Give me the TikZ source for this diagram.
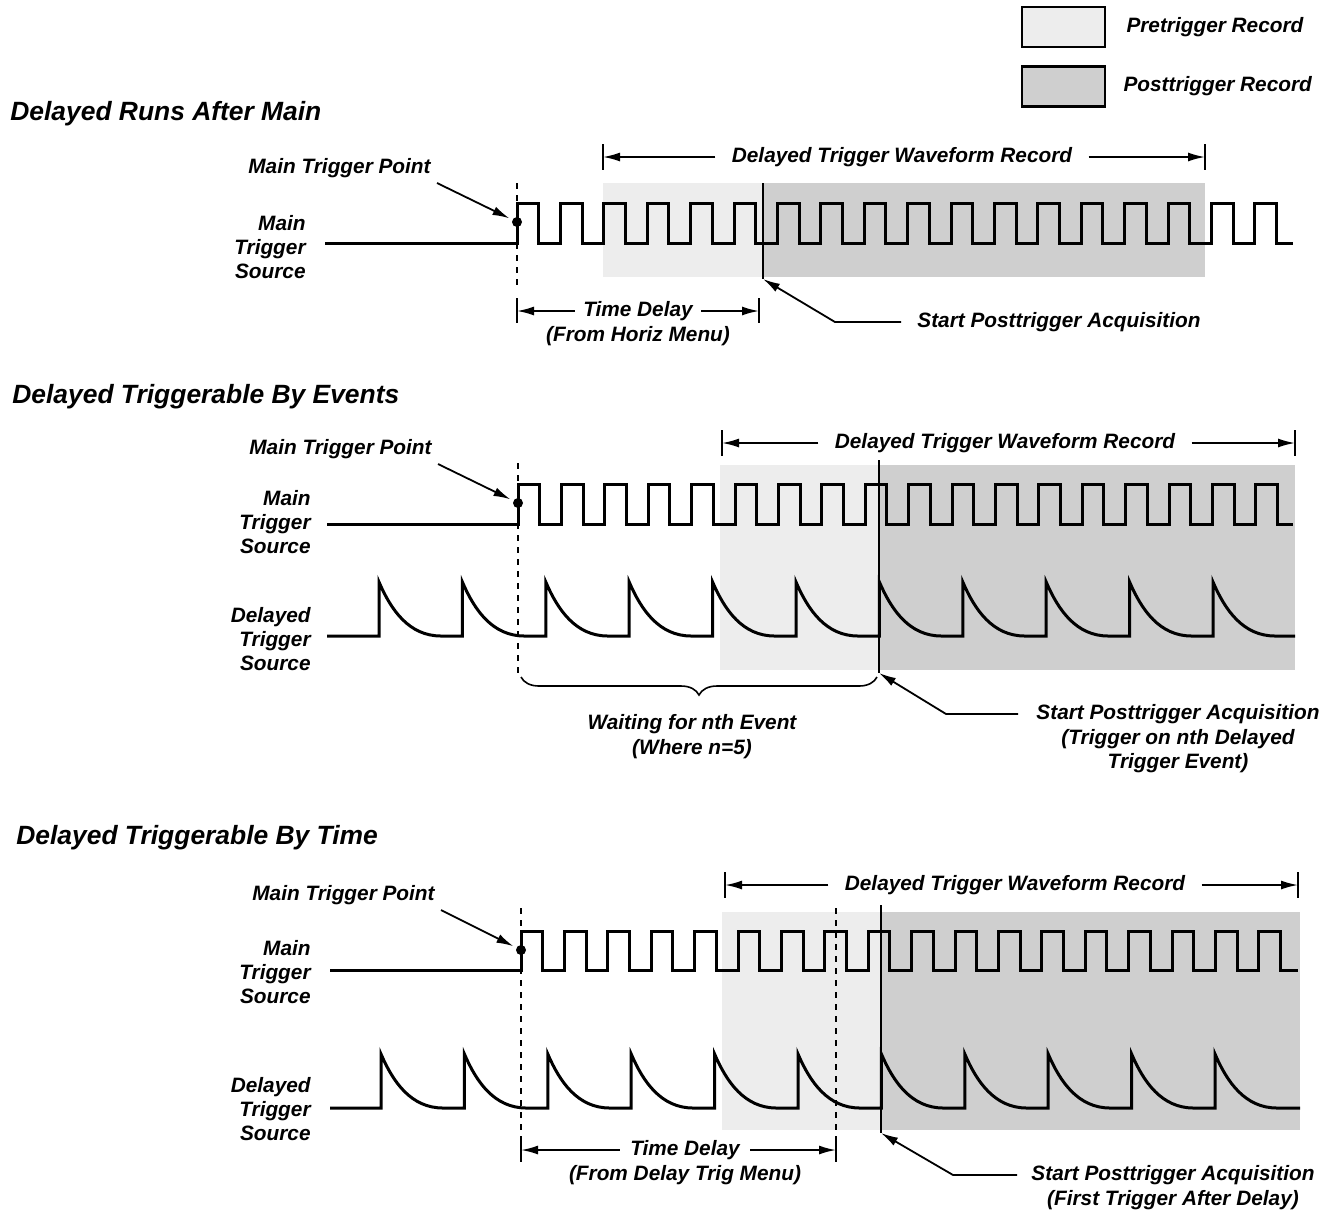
\documentclass[tikz,border=0pt]{standalone}
\usepackage{fontspec}
\setmainfont{Liberation Sans}
\usetikzlibrary{
	arrows.meta,
	positioning,
	decorations.pathreplacing
}

\begin{document}
\begin{tikzpicture}[
    x=0.5pt, y=-0.5pt,
    lbl/.style={font=\fontsize{10.4}{12}\selectfont\bfseries\itshape, inner sep=1pt},
    ttl/.style={font=\fontsize{13.2}{15}\selectfont\bfseries\itshape, anchor=west, inner sep=0pt, yshift=-1pt},
    src/.style={lbl, align=right, anchor=east},
    wave/.style={line width=1.5pt, line join=miter},
    arr/.style={line width=0.9pt, -{Latex[length=8.5pt,width=4.5pt]}},
    tick/.style={line width=0.9pt},
    trig/.style={line width=0.8pt, dash pattern=on 3pt off 3pt},
    post/.style={line width=0.6pt},
    prefill/.style={fill=gray!14},
    postfill/.style={fill=gray!38},
    dot/.style={circle, fill, inner sep=0pt, minimum size=5pt},
    legend/.style={draw, line width=1.1pt, minimum width=41.5pt, minimum height=20pt}
]
\useasboundingbox (0,0) rectangle (1336,1211);

% Legend
\node[legend, prefill] (lgpre) at (1063.5,27) {};
\node[lbl, right=9pt of lgpre] (lgpretxt) {Pretrigger Record};
\node[legend, postfill] (lgpost) at (1063.5,86.5) {};
\node[lbl, right=7.5pt of lgpost] (lgposttxt) {Posttrigger Record};

%% Delayed Runs After Main
\node[ttl] (title1) at (10,112) {Delayed Runs After Main};

% Records
\fill[prefill] (603,183) rectangle (763,277);
\fill[postfill] (763,183) rectangle (1205,277);

% Main trigger source
\node[src] (src1) at (308,247) {Main\\Trigger\\Source};
\draw[wave] (325,243) foreach \k in {0,...,17} {
    -- ({517+43.4*\k},243) -- ({517+43.4*\k},203) -- ({538.7+43.4*\k},203) -- ({538.7+43.4*\k},243)
} -- (1293,243);

% Trigger point
\draw[trig] (517,183) -- (517,285);
\node[dot] (dot1) at (517,222) {};
\node[lbl, anchor=east] (mtp1) at (433,168) {Main Trigger Point};
\draw[arr, shorten >=1.5pt] ([shift={(2pt,-7.5pt)}]mtp1.east) -- (dot1);

% Posttrigger start
\coordinate (pt1) at (763,279);
\draw[post] (763,183) -- (pt1);
\node[lbl, anchor=west] (spa1) at (915,322) {Start Posttrigger Acquisition};
\draw[arr] ([xshift=-7pt]spa1.west) -- ++(-66,0) -- (pt1);

% Record span
\node[lbl, inner xsep=8pt] (rec1) at (902,157) {Delayed Trigger Waveform Record};
\coordinate (rec1l) at (603,157);
\coordinate (rec1r) at (1205,157);
\draw[tick] (603,144) -- (603,170);
\draw[tick] (1205,144) -- (1205,170);
\draw[arr] (rec1.west) -- (rec1l);
\draw[arr] (rec1.east) -- (rec1r);

% Time delay
\node[lbl, inner xsep=4pt] (td1) at (638,311) {Time Delay};
\node[lbl, below=0.5pt of td1] (td1b) {(From Horiz Menu)};
\coordinate (td1l) at (517,311);
\coordinate (td1r) at (759,311);
\draw[tick] (517,298) -- (517,323);
\draw[tick] (759,298) -- (759,323);
\draw[arr] (td1.west) -- (td1l);
\draw[arr] (td1.east) -- (td1r);

%% Delayed Triggerable By Events
\node[ttl] (title2) at (12,395) {Delayed Triggerable By Events};

% Records
\fill[prefill] (720,465) rectangle (879,670);
\fill[postfill] (879,465) rectangle (1295,670);

% Main trigger source
\node[src] (src2a) at (313,522) {Main\\Trigger\\Source};
\draw[wave] (327,524) foreach \k in {0,...,17} {
    -- ({518+43.4*\k},524) -- ({518+43.4*\k},484) -- ({539.7+43.4*\k},484) -- ({539.7+43.4*\k},524)
} -- (1293,524);

% Delayed trigger source
\node[src] (src2b) at (313,639) {Delayed\\Trigger\\Source};
\draw[wave] (327,636) foreach \k in {0,...,10} {
    -- ({379+83.4*\k},636) -- ({379+83.4*\k},582)
    .. controls ({391+83.4*\k},610) and ({409+83.4*\k},636) .. ({441+83.4*\k},636)
} -- (1295,636);

% Trigger point
\draw[trig] (518,463) -- (518,678);
\node[dot] (dot2) at (518,503) {};
\node[lbl, anchor=east] (mtp2) at (434,449) {Main Trigger Point};
\draw[arr, shorten >=1.5pt] ([shift={(2pt,-7.5pt)}]mtp2.east) -- (dot2);

% Posttrigger start
\coordinate (pt2) at (879,673);
\draw[post] (879,460) -- (pt2);
\node[lbl] (spa2) at (1178,714) {Start Posttrigger Acquisition};
\node[lbl, align=center, below=0.5pt of spa2] (spa2b) {(Trigger on nth Delayed\\Trigger Event)};
\draw[arr] ([xshift=-8pt]spa2.west) -- ++(-72,0) -- (pt2);

% Record span
\node[lbl, inner xsep=8pt] (rec2) at (1005,443) {Delayed Trigger Waveform Record};
\coordinate (rec2l) at (722,443);
\coordinate (rec2r) at (1295,443);
\draw[tick] (722,430) -- (722,456);
\draw[tick] (1295,430) -- (1295,456);
\draw[arr] (rec2.west) -- (rec2l);
\draw[arr] (rec2.east) -- (rec2r);

% Waiting for events
\draw[line width=0.8pt, decorate, decoration={brace, mirror, amplitude=9pt}] (521,677) -- (877,677);
\node[lbl] (wait2) at (692,724) {Waiting for nth Event};
\node[lbl, below=0.5pt of wait2] (wait2b) {(Where n=5)};

%% Delayed Triggerable By Time
\node[ttl] (title3) at (16,836) {Delayed Triggerable By Time};

% Records
\fill[prefill] (722,912) rectangle (881,1130);
\fill[postfill] (881,912) rectangle (1300,1130);

% Main trigger source
\node[src] (src3a) at (313,972) {Main\\Trigger\\Source};
\draw[wave] (330,970) foreach \k in {0,...,17} {
    -- ({521+43.4*\k},970) -- ({521+43.4*\k},931) -- ({542.7+43.4*\k},931) -- ({542.7+43.4*\k},970)
} -- (1298,970);

% Delayed trigger source
\node[src] (src3b) at (313,1109) {Delayed\\Trigger\\Source};
\draw[wave] (330,1108) foreach \k in {0,...,10} {
    -- ({381+83.4*\k},1108) -- ({381+83.4*\k},1054)
    .. controls ({393+83.4*\k},1082) and ({411+83.4*\k},1108) .. ({443+83.4*\k},1108)
} -- (1300,1108);

% Trigger point and delay end
\draw[trig] (521,908) -- (521,1160);
\draw[trig] (836,908) -- (836,1160);
\node[dot] (dot3) at (521,950) {};
\node[lbl, anchor=east] (mtp3) at (437,895) {Main Trigger Point};
\draw[arr, shorten >=1.5pt] ([shift={(2pt,-7.5pt)}]mtp3.east) -- (dot3);

% Posttrigger start
\coordinate (pt3) at (881,1133);
\draw[post] (881,905) -- (pt3);
\node[lbl] (spa3) at (1173,1175) {Start Posttrigger Acquisition};
\node[lbl, below=0.5pt of spa3] (spa3b) {(First Trigger After Delay)};
\draw[arr] ([xshift=-6pt]spa3.west) -- ++(-64,0) -- (pt3);

% Record span
\node[lbl, inner xsep=8pt] (rec3) at (1015,885) {Delayed Trigger Waveform Record};
\coordinate (rec3l) at (725,885);
\coordinate (rec3r) at (1298,885);
\draw[tick] (725,872) -- (725,898);
\draw[tick] (1298,872) -- (1298,898);
\draw[arr] (rec3.west) -- (rec3l);
\draw[arr] (rec3.east) -- (rec3r);

% Time delay
\node[lbl, inner xsep=5pt] (td3) at (685,1150) {Time Delay};
\node[lbl, below=0.5pt of td3] (td3b) {(From Delay Trig Menu)};
\coordinate (td3l) at (521,1150);
\coordinate (td3r) at (836,1150);
\draw[tick] (521,1137) -- (521,1162);
\draw[tick] (836,1137) -- (836,1162);
\draw[arr] (td3.west) -- (td3l);
\draw[arr] (td3.east) -- (td3r);

\end{tikzpicture}
\end{document}
